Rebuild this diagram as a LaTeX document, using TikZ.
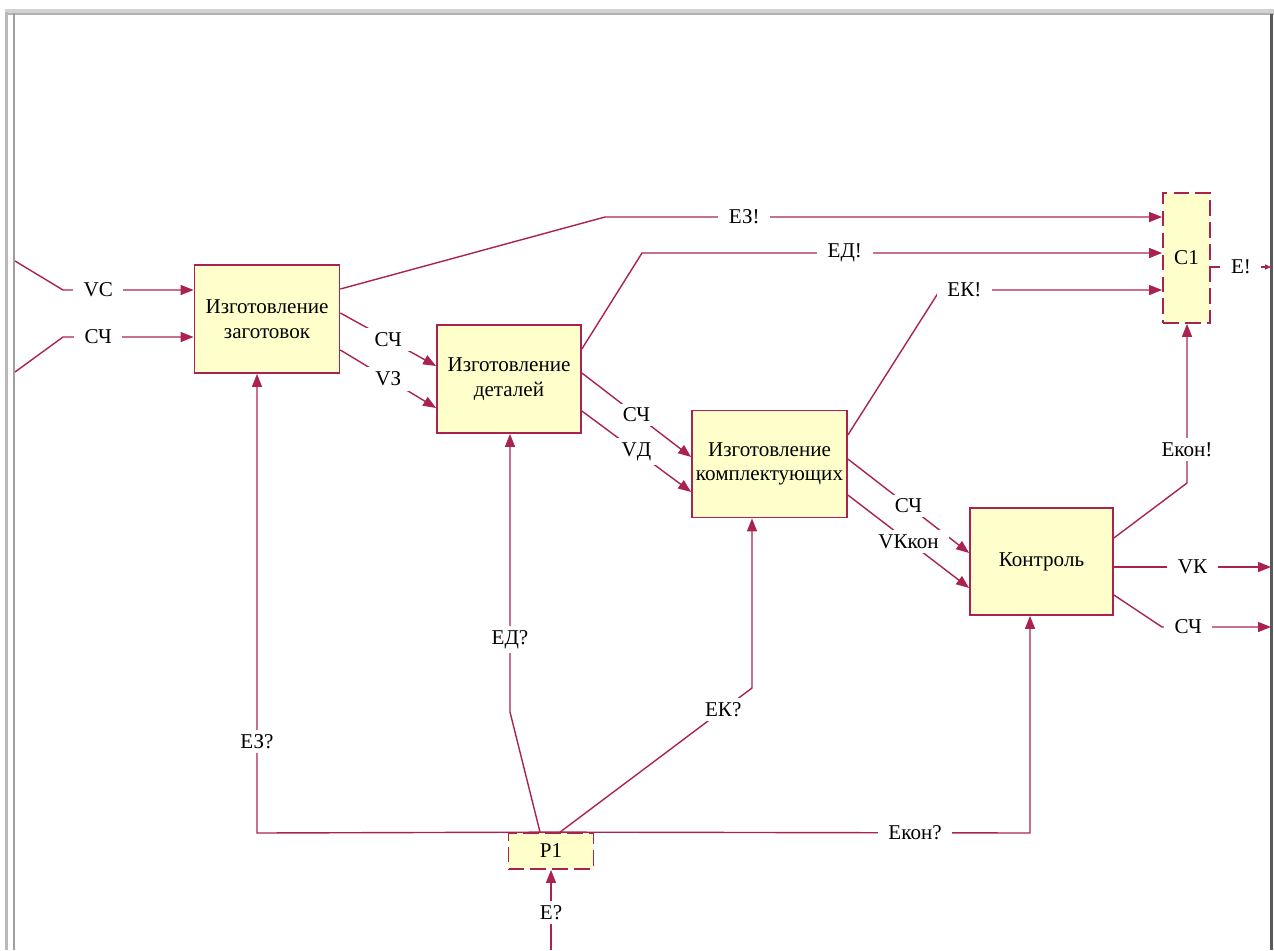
\documentclass[tikz,border=0pt]{standalone}
\usepackage{fontspec}
\setmainfont{Liberation Serif}
\usetikzlibrary{arrows.meta}
\definecolor{wire}{RGB}{170,35,80}
\definecolor{boxfill}{RGB}{255,255,204}
\tikzset{
	proc/.style={draw=wire, fill=boxfill, line width=1pt, align=center, inner sep=0pt, font=\fontsize{12}{14}\selectfont},
	stub/.style={proc, dash pattern=on 9pt off 3.5pt},
	flow/.style={draw=wire, line width=0.8pt},
	lbl/.style={fill=white, inner xsep=6pt, inner ysep=2.5pt, font=\fontsize{12}{14}\selectfont},
}
\begin{document}
\begin{tikzpicture}[x=0.02cm, y=-0.02cm, >={Triangle[length=2.6mm,width=2mm]}]
	\useasboundingbox (0,0) rectangle (1274,950);
	
	% window frame
	\fill[gray!35] (5,9) rectangle (1274,15);
	\fill[gray!60] (5,13) rectangle (1274,15);
	\fill[gray!55] (5,12) rectangle (7.5,950);
	\fill[gray!75] (12.5,13) rectangle (15,950);
	\fill[black!65] (1270,14) rectangle (1272.5,950);
	
	\node[proc, minimum width=2.9cm, minimum height=2.16cm] (zag) at (267,319) {Изготовление\\заготовок};
	\node[proc, minimum width=2.88cm, minimum height=2.16cm] (det) at (509,379) {Изготовление\\деталей};
	\node[proc, minimum width=3.1cm, minimum height=2.14cm] (kom) at (769.5,464) {Изготовление\\комплектующих};
	\node[proc, minimum width=2.86cm, minimum height=2.14cm] (kon) at (1041.5,561.5) {Контроль};
	\node[stub, minimum width=0.94cm, minimum height=2.6cm] (c1) at (1186.5,258) {С1};
	\node[stub, minimum width=1.7cm, minimum height=0.72cm] (p1) at (551,851) {Р1};
	
	\coordinate[](vcin) at (15,261) ;
	\coordinate[](vcb) at (63,290) ;
	\coordinate[](scin) at (15,372) ;
	\coordinate[](scb) at (63,337) ;
	\coordinate[](vkout) at (1271,567) ;
	\coordinate[](scb2) at (1162,627) ;
	\coordinate[](scout) at (1271,627) ;
	\coordinate[](ezb) at (605,217) ;
	\coordinate[](edb) at (642,253) ;
	\coordinate[](ekb) at (940,290) ;
	\coordinate[](ekonb) at (1187,483) ;
	\coordinate[](eout) at (1271,267) ;
	\coordinate[](ezq) at (257,833) ;
	\coordinate[](ekonq) at (1030,833) ;
	\coordinate[](edq) at (510,712) ;
	\coordinate[](ekq) at (752,688) ;
	\coordinate[](ein) at (551,950) ;
	
	% inputs
	\draw[flow, ->] (vcin) -- (vcb) -- node[lbl, pos=.27](lvc){VС} (zag.west |- 0,290);
	\draw[flow, ->] (scin) -- (scb) -- node[lbl, pos=.27](lsc){СЧ} (zag.west |- 0,337);
	
	% along the chain
	\draw[flow, ->] (zag.east |- 0,313) -- node[lbl](lsc1){СЧ} (det.west |- 0,366);
	\draw[flow, ->] (zag.east |- 0,350) -- node[lbl](lvz){VЗ} (det.west |- 0,408);
	\draw[flow, ->] (det.east |- 0,373) -- node[lbl](lsc2){СЧ} (kom.west |- 0,457);
	\draw[flow, ->] (det.east |- 0,411) -- node[lbl](lvd){VД} (kom.west |- 0,492);
	\draw[flow, ->] (kom.east |- 0,459) -- node[lbl](lsc3){СЧ} (kon.west |- 0,553);
	\draw[flow, ->] (kom.east |- 0,495) -- node[lbl](lvkk){VКкон} (kon.west |- 0,588);
	
	% outputs
	\draw[flow, ->] (kon.east |- 0,567) -- node[lbl](lvk){VК} (vkout);
	\draw[flow, ->] (kon.east |- 0,595) -- (scb2) -- node[lbl, pos=.24](lsc4){СЧ} (scout);
	
	% events to C1
	\draw[flow, ->] (zag.east |- 0,289) -- (ezb) -- node[lbl, pos=.25](lez){ЕЗ!} (c1.west |- 0,217);
	\draw[flow, ->] (det.east |- 0,349) -- (edb) -- node[lbl, pos=.39](led){ЕД!} (c1.west |- 0,253);
	\draw[flow, ->] (kom.east |- 0,435) -- (ekb) -- node[lbl, pos=.11](lek){ЕК!} (c1.west |- 0,290);
	\draw[flow, ->] (kon.east |- 0,538) -- (ekonb) -- node[lbl, pos=.21](lekon){Екон!} (c1.south -| ekonb);
	\draw[flow, -{Triangle[length=1.2mm,width=1mm]}] (c1.east |- 0,267) -- node[lbl](le){Е!} (eout);
	
	% events from P1
	\draw[flow, ->] (p1.north) -- (ezq) -- node[lbl, pos=.2](lezq){ЕЗ?} (zag.south -| ezq);
	\draw[flow, ->] (p1.north) -- node[lbl, pos=.76](lekonq){Екон?} (ekonq) -- (kon.south -| ekonq);
	\draw[flow, ->] (p1.north -| 540,0) -- (edq) -- node[lbl, pos=.26](ledq){ЕД?} (det.south -| edq);
	\draw[flow, ->] (p1.north -| 560,0) -- node[lbl, pos=.85](lekq){ЕК?} (ekq) -- (kom.south -| ekq);
	\draw[flow, ->] (ein) -- node[lbl, pos=.47](leq){Е?} (p1.south -| ein);
	
\end{tikzpicture}
\end{document}
